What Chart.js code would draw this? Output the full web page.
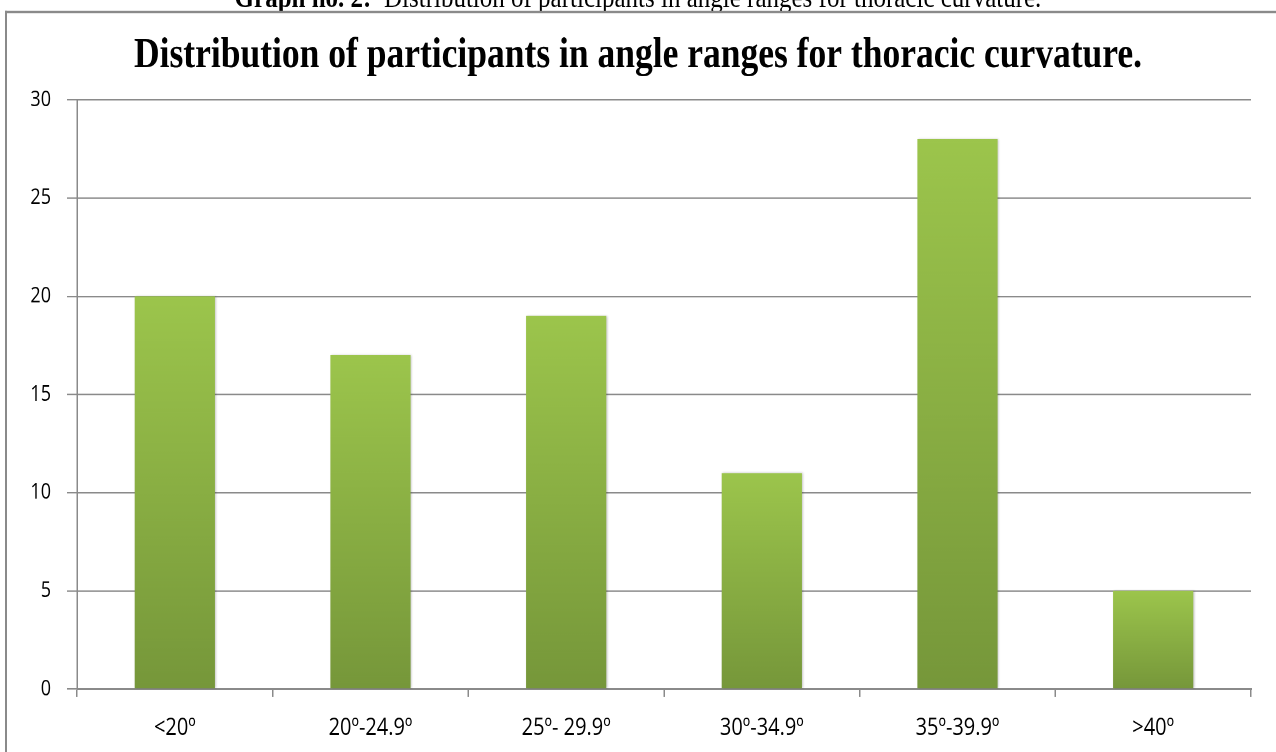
<!DOCTYPE html>
<html>
<head>
<meta charset="utf-8">
<script src="https://cdn.jsdelivr.net/npm/chart.js@4/dist/chart.umd.min.js"></script>
<style>
  html, body { margin:0; padding:0; background:#fff; overflow:hidden; width:1276px; height:752px; }
  #wrap { position:absolute; left:0; top:0; width:1276px; height:627px; transform:scaleY(1.2); transform-origin:0 0; }
  #caption { position:absolute; left:0; top:-15px; width:1276px; text-align:center; font-family:"Liberation Serif","Times New Roman",serif; font-size:25px; line-height:25px; color:#000; white-space:nowrap; }
  #frame { position:absolute; left:5px; top:8.5px; width:3000px; height:3000px; border-left:2px solid #8a8a8a; border-top:2px solid #8a8a8a; }
  #box { position:absolute; left:0; top:0; width:1276px; height:627px; }
</style>
</head>
<body>
<div id="wrap">
  <div id="caption"><b>Graph no. 2:</b>&nbsp; Distribution of participants in angle ranges for thoracic curvature.</div>
  <div id="frame"></div>
  <div id="box"><canvas id="c"></canvas></div>
</div>
<script>
const chartTitle = "Distribution of participants in angle ranges for thoracic curvature.";
const categories = ["<20º", "20º-24.9º", "25º- 29.9º", "30º-34.9º", "35º-39.9º", ">40º"];
const participants = [20, 17, 19, 11, 28, 5];
const yTicks = [0, 5, 10, 15, 20, 25, 30];

const topColor = "#9cc54c";
const bottomColor = "#76973a";

function barGradient(ctx) {
  const chart = ctx.chart;
  const ys = chart.scales && chart.scales.y;
  if (!chart.chartArea || !ys || ctx.parsed === undefined) return topColor;
  const top = ys.getPixelForValue(ctx.parsed.y);
  const bottom = ys.getPixelForValue(0);
  if (!isFinite(top) || !isFinite(bottom) || top === bottom) return topColor;
  const g = chart.ctx.createLinearGradient(0, top, 0, bottom);
  g.addColorStop(0, topColor);
  g.addColorStop(1, bottomColor);
  return g;
}

const shadowPlugin = {
  id: 'barShadow',
  beforeDatasetsDraw(chart) {
    const c = chart.ctx;
    c.save();
    c.shadowColor = 'rgba(0,0,0,0.22)';
    c.shadowBlur = 4;
    c.shadowOffsetX = 2;
    c.shadowOffsetY = 0;
  },
  afterDatasetsDraw(chart) {
    chart.ctx.restore();
  }
};

const gridColor = "#8a8a8a";
const fontFamily = "'Open Sans', 'Liberation Sans', sans-serif";

new Chart(document.getElementById('c'), {
  type: 'bar',
  data: {
    labels: categories,
    datasets: [{
      data: participants,
      backgroundColor: barGradient,
      borderWidth: 0,
      categoryPercentage: 1.0,
      barPercentage: 0.41
    }]
  },
  plugins: [shadowPlugin],
  options: {
    responsive: true,
    maintainAspectRatio: false,
    devicePixelRatio: 2,
    animation: false,
    layout: { padding: { left: 25, right: 25, top: 0, bottom: 0 } },
    plugins: {
      legend: { display: false },
      tooltip: { enabled: false },
      title: {
        display: true,
        text: chartTitle,
        color: '#000',
        font: { family: "'Liberation Serif', 'Times New Roman', serif", size: 35.5, weight: 'bold', lineHeight: 1.2 },
        padding: { top: 25.4, bottom: 15.3 }
      }
    },
    scales: {
      x: {
        grid: { display: true, drawOnChartArea: false, drawTicks: true, tickLength: 6.7, color: gridColor, lineWidth: 1.5, offset: true },
        border: { display: true, color: gridColor, width: 1.5 },
        ticks: { color: '#000', font: { family: fontFamily, size: 20 }, padding: 14, maxRotation: 0, autoSkip: false },
        afterFit(scale) { scale.height = 52.8; }
      },
      y: {
        min: 0, max: 30,
        afterBuildTicks(scale) { scale.ticks = yTicks.map(v => ({ value: v })); },
        grid: { color: gridColor, lineWidth: 1.2, drawTicks: true, tickLength: 10 },
        border: { display: true, color: gridColor, width: 1.5 },
        ticks: { color: '#000', font: { family: fontFamily, size: 18 }, padding: 16 },
        afterFit(scale) { scale.width = 52; }
      }
    }
  }
});
</script>
</body>
</html>
